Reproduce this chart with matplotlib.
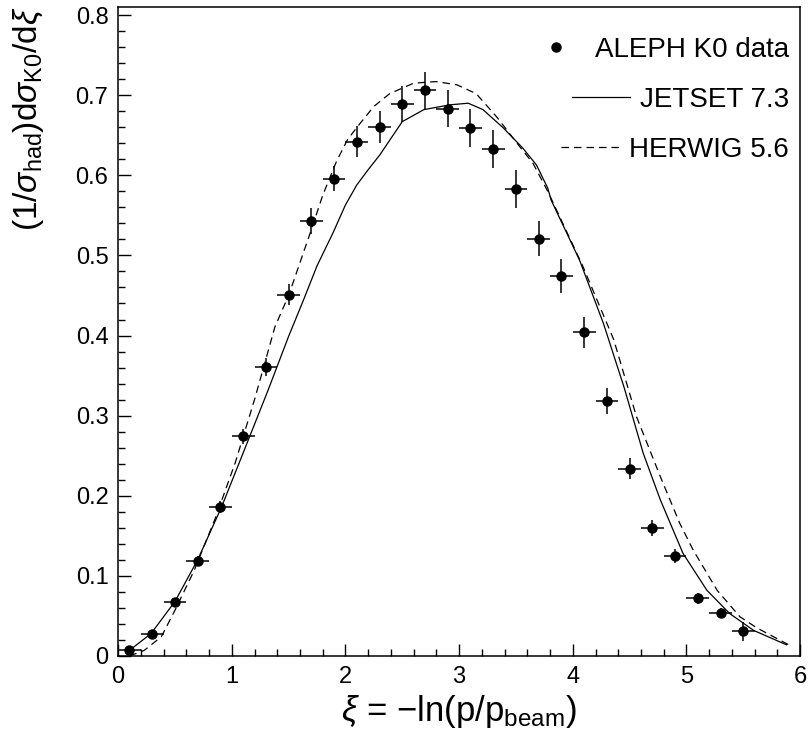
import matplotlib
matplotlib.use('Agg')
import matplotlib.pyplot as plt
from matplotlib.ticker import MultipleLocator
from matplotlib.legend_handler import HandlerLine2D

plt.rcParams['font.family'] = ['Liberation Sans', 'DejaVu Sans']
plt.rcParams['mathtext.fontset'] = 'custom'
plt.rcParams['mathtext.rm'] = 'Liberation Sans'
plt.rcParams['mathtext.it'] = 'Liberation Sans:italic'

# ALEPH K0 data
xi = [0.1, 0.3, 0.5, 0.7, 0.9, 1.1, 1.3, 1.5, 1.7, 1.9, 2.1, 2.3, 2.5, 2.7,
      2.9, 3.1, 3.3, 3.5, 3.7, 3.9, 4.1, 4.3, 4.5, 4.7, 4.9, 5.1, 5.3, 5.5]
dat = [0.008, 0.028, 0.067, 0.119, 0.186, 0.274, 0.361, 0.451, 0.543, 0.596,
       0.642, 0.660, 0.689, 0.706, 0.683, 0.659, 0.633, 0.583, 0.521, 0.474,
       0.404, 0.318, 0.234, 0.160, 0.125, 0.072, 0.054, 0.031]
dat_err = [0.003, 0.004, 0.005, 0.006, 0.008, 0.009, 0.011, 0.013, 0.016, 0.016,
           0.019, 0.020, 0.022, 0.023, 0.023, 0.024, 0.024, 0.024, 0.022, 0.021,
           0.019, 0.016, 0.013, 0.010, 0.009, 0.007, 0.006, 0.012]
xi_err = 0.1

# JETSET 7.3
js_x = [0.10, 0.29, 0.50, 0.70, 0.91, 1.11, 1.32, 1.50, 1.63, 1.75, 1.89, 2.00,
        2.10, 2.20, 2.30, 2.50, 2.69, 2.92, 3.08, 3.21, 3.39, 3.56, 3.68, 3.78,
        3.81, 4.06, 4.27, 4.45, 4.62, 4.77, 4.97, 5.18, 5.38, 5.59, 5.88]
js_y = [0.007, 0.028, 0.068, 0.120, 0.186, 0.257, 0.332, 0.399, 0.444, 0.487,
        0.528, 0.563, 0.588, 0.607, 0.625, 0.667, 0.682, 0.688, 0.690, 0.682,
        0.659, 0.634, 0.613, 0.584, 0.569, 0.494, 0.415, 0.336, 0.253, 0.195,
        0.128, 0.082, 0.053, 0.032, 0.014]

# HERWIG 5.6
hw_x = [0.10, 0.23, 0.38, 0.50, 0.67, 0.85, 1.03, 1.20, 1.38, 1.50, 1.69, 1.80,
        1.92, 2.02, 2.13, 2.25, 2.39, 2.60, 2.80, 2.98, 3.15, 3.33, 3.51, 3.65,
        3.78, 4.09, 4.36, 4.56, 4.77, 4.94, 5.06, 5.27, 5.47, 5.62, 5.90]
hw_y = [0.000, 0.007, 0.024, 0.057, 0.107, 0.170, 0.241, 0.320, 0.411, 0.450,
        0.528, 0.575, 0.617, 0.645, 0.665, 0.686, 0.702, 0.715, 0.717, 0.713,
        0.702, 0.673, 0.640, 0.615, 0.580, 0.486, 0.395, 0.299, 0.224, 0.166,
        0.132, 0.082, 0.049, 0.035, 0.014]


class RightDot(HandlerLine2D):
    # put the single legend marker near the right end of the handle box
    def get_xdata(self, legend, xdescent, ydescent, width, height, fontsize):
        xd, xm = super().get_xdata(legend, xdescent, ydescent, width, height, fontsize)
        return xd, [-xdescent + 0.85 * width]


fig = plt.figure(figsize=(8.09, 7.45), dpi=100)
ax = fig.add_axes([0.146, 0.1195, 0.843, 0.871])

ax.errorbar(xi, dat, xerr=xi_err, yerr=dat_err, fmt='none', ecolor='black',
            elinewidth=1.1, capsize=0, zorder=3)
pts, = ax.plot(xi, dat, 'o', color='black', ms=6.5, label='ALEPH K0 data', zorder=4)
ax.plot(js_x, js_y, color='black', lw=0.9, label='JETSET 7.3')
ax.plot(hw_x, hw_y, color='black', lw=0.9, linestyle=(0, (6, 4)), label='HERWIG 5.6')

ax.set_xlim(0, 6)
ax.set_ylim(0, 0.81)
ax.xaxis.set_major_locator(MultipleLocator(1))
ax.xaxis.set_minor_locator(MultipleLocator(0.2))
ax.yaxis.set_minor_locator(MultipleLocator(0.02))
ax.tick_params(which='both', direction='in', top=False, right=False, labelsize=17, width=1.0)
ax.tick_params(which='major', length=9, pad=7)
ax.tick_params(which='minor', length=5)
ax.set_yticks([0, 0.1, 0.2, 0.3, 0.4, 0.5, 0.6, 0.7, 0.8])
ax.set_yticklabels(['0', '0.1', '0.2', '0.3', '0.4', '0.5', '0.6', '0.7', '0.8'])
for s in ax.spines.values():
    s.set_linewidth(1.1)

ax.set_xlabel(r'$\xi$ = $-$ln(p/p$_{\rm beam}$)', fontsize=25, labelpad=4)
ax.set_ylabel(r'(1/$\sigma_{\rm had}$)d$\sigma_{\rm K0}$/d$\xi$', fontsize=24,
              loc='top', labelpad=21)

leg = ax.legend(loc='upper right', bbox_to_anchor=(0.992, 0.963), frameon=False,
                fontsize=20, handlelength=2.1, labelspacing=0.87, handletextpad=0.35,
                borderaxespad=0, borderpad=0.2,
                handler_map={pts: RightDot(numpoints=1)})
# right-align the legend rows like the original
for col in leg._legend_handle_box.get_children():
    col.align = 'right'

fig.savefig('out.png', dpi=100)
